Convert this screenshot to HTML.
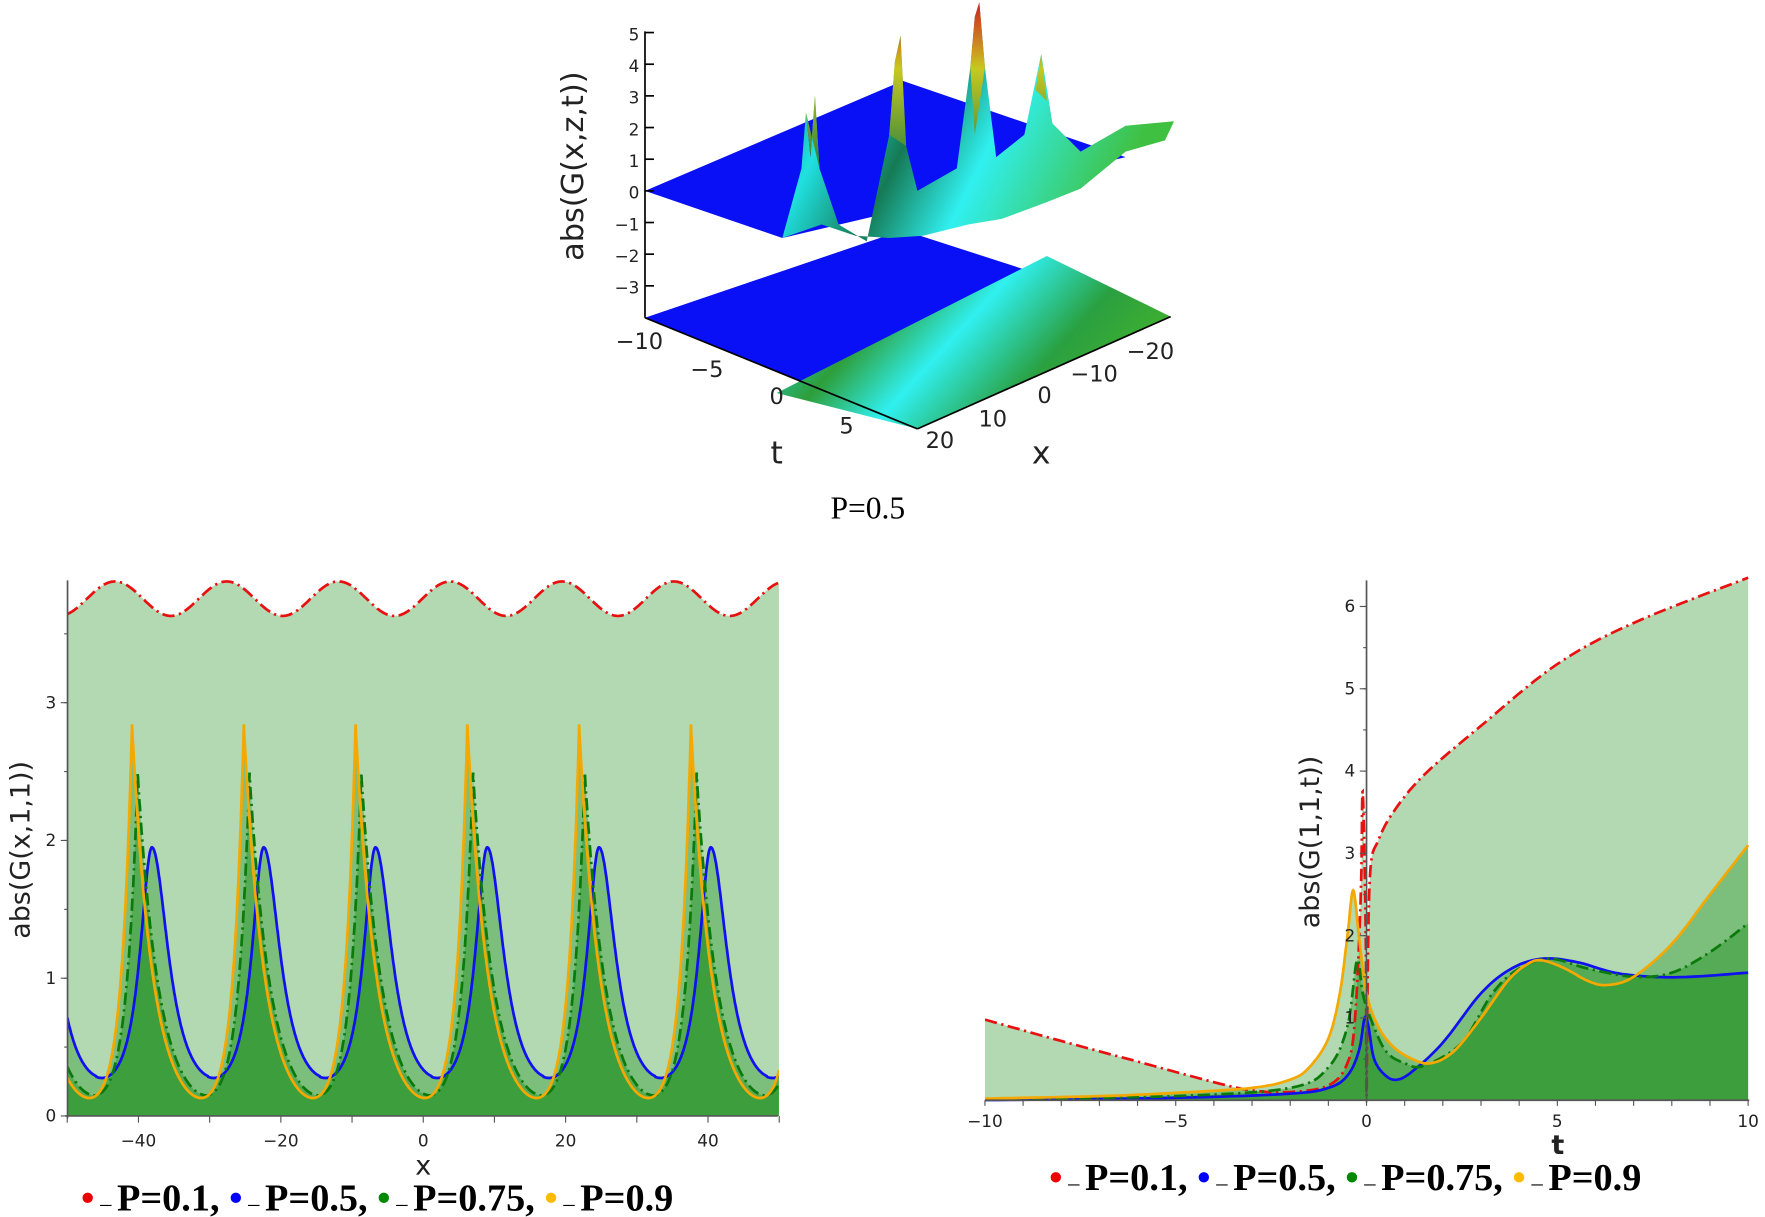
<!DOCTYPE html>
<html><head><meta charset="utf-8"><style>
html,body{margin:0;padding:0;background:#fff;}
svg{display:block;}
.tk{font-family:"DejaVu Sans","Liberation Sans",sans-serif;font-size:15px;fill:#222;}
.lg{font-family:"Liberation Serif",serif;font-weight:bold;font-size:34px;fill:#000;}
</style></head><body>
<svg id="s" width="1765" height="1217" viewBox="0 0 1568 1084" preserveAspectRatio="none" xmlns="http://www.w3.org/2000/svg">
<defs>
<linearGradient id="surf" x1="0" y1="0" x2="1" y2="0.3">
<stop offset="0" stop-color="#1a6a3a"/><stop offset="0.25" stop-color="#20e0e0"/><stop offset="0.45" stop-color="#157a55"/><stop offset="0.65" stop-color="#30f0f0"/><stop offset="1" stop-color="#40c040"/></linearGradient>
<linearGradient id="low" x1="0" y1="0" x2="1" y2="0.4">
<stop offset="0" stop-color="#0a3cff"/><stop offset="0.15" stop-color="#20d0d0"/><stop offset="0.35" stop-color="#2e9e3a"/><stop offset="0.55" stop-color="#30f0f0"/><stop offset="0.8" stop-color="#2aa040"/><stop offset="1" stop-color="#40b030"/></linearGradient>
<linearGradient id="spk" x1="0" y1="1" x2="0" y2="0"><stop offset="0" stop-color="#2a8040"/><stop offset="0.6" stop-color="#c8c820"/><stop offset="1" stop-color="#d02020"/></linearGradient>
<clipPath id="cl"><rect x="60" y="500" width="632" height="495"/></clipPath>
<clipPath id="cr"><rect x="875" y="500" width="679" height="481"/></clipPath>
</defs>
<polygon points="573,283 802,205 1040,282 815,382" fill="#0a10f5"/>
<polygon points="690,350 930,228 1040,282 815,382" fill="url(#low)"/>
<polygon points="573,170 802,72 1000,140 695,212" fill="#0a10f5"/>
<path d="M695,212 L712,150 L716,100 L720,140 L724,85 L728,150 L745,200 L770,215 L790,120 L795,55 L800,32 L805,130 L815,170 L850,150 L862,60 L866,15 L870,2 L875,60 L885,140 L910,120 L925,48 L935,110 L960,135 L1000,112 L1043,108 L1035,125 L1000,135 L960,168 L930,180 L890,195 L860,200 L820,210 L790,212 L760,210 L730,200 Z" fill="url(#surf)"/>
<path d="M716,100 L720,140 L724,85 L728,150 Z M795,55 L800,32 L805,130 L790,120 Z M862,60 L866,15 L870,2 L875,60 L866,120 Z M920,80 L925,48 L930,90 Z" fill="url(#spk)"/>
<g stroke="#000" stroke-width="1.5">
<line x1="573" y1="28" x2="573" y2="283"/>
<line x1="573" y1="283" x2="815" y2="382"/>
<line x1="815" y1="382" x2="1040" y2="282"/>
</g>
<g class="tk" style="font-size:20px" text-anchor="end" id="zt"></g>
<g class="tk" style="font-size:20px" text-anchor="middle">
<text x="568" y="311">−10</text><text x="628" y="336">−5</text><text x="690" y="360">0</text><text x="752" y="386">5</text>
<text x="835" y="399">20</text><text x="882" y="380">10</text><text x="928" y="359">0</text><text x="972" y="340">−10</text><text x="1022" y="320">−20</text>
<text x="690" y="413" style="font-size:28px">t</text><text x="925" y="413" style="font-size:28px">x</text>
</g>
<text class="tk" transform="translate(518,148) rotate(-90)" text-anchor="middle" style="font-size:27px">abs(G(x,z,t))</text>
<text x="771" y="462" text-anchor="middle" style="font-family:'Liberation Serif',serif;font-size:28px">P=0.5</text>
<g id="L" clip-path="url(#cl)"></g>
<g id="Lax"></g>
<text class="tk" transform="translate(26,757) rotate(-90)" text-anchor="middle" style="font-size:24px">abs(G(x,1,1))</text>
<text class="tk" x="376" y="1046" text-anchor="middle" style="font-size:24px">x</text>
<g id="R" clip-path="url(#cr)"></g>
<g id="Rax"></g>
<text class="tk" transform="translate(1172,750) rotate(-90)" text-anchor="middle" style="font-size:24px">abs(G(1,1,t))</text>
<text class="tk" x="1384" y="1028" text-anchor="middle" style="font-size:24px;font-weight:bold">t</text>
<text class="lg" x="72" y="1078"><tspan fill="#e00">•</tspan><tspan font-weight="normal" font-size="20"> – </tspan>P=0.1, <tspan fill="#00f">•</tspan><tspan font-weight="normal" font-size="20"> – </tspan>P=0.5, <tspan fill="#080">•</tspan><tspan font-weight="normal" font-size="20"> – </tspan>P=0.75, <tspan fill="#fb0">•</tspan><tspan font-weight="normal" font-size="20"> – </tspan>P=0.9</text>
<text class="lg" x="932" y="1060"><tspan fill="#e00">•</tspan><tspan font-weight="normal" font-size="20"> – </tspan>P=0.1, <tspan fill="#00f">•</tspan><tspan font-weight="normal" font-size="20"> – </tspan>P=0.5, <tspan fill="#080">•</tspan><tspan font-weight="normal" font-size="20"> – </tspan>P=0.75, <tspan fill="#fb0">•</tspan><tspan font-weight="normal" font-size="20"> – </tspan>P=0.9</text>
</svg>
<script>
var NS="http://www.w3.org/2000/svg";
function el(p,t,a){var e=document.createElementNS(NS,t);for(var k in a)e.setAttribute(k,a[k]);p.appendChild(e);return e;}
function tx(p,x,y,s,anc){var e=el(p,"text",{x:x,y:y,"class":"tk","text-anchor":anc||"middle"});e.textContent=s;return e;}
var zt=document.getElementById("zt"),s=document.getElementById("s");
for(var v=-3;v<=5;v++){var y=170-28.2*v;tx(zt,568,y+7,(v<0?"−":"")+Math.abs(v),"end");el(s,"line",{x1:573,y1:y,x2:581,y2:y,stroke:"#000","stroke-width":1.5});}
function pathFrom(pts){return "M"+pts.map(function(p){return p[0].toFixed(1)+","+p[1].toFixed(1)}).join(" L");}
function fillFrom(pts,y0){return pathFrom(pts)+" L"+pts[pts.length-1][0]+","+y0+" L"+pts[0][0]+","+y0+" Z";}
var cols={r:"#e81010",b:"#1010f0",g:"#0a7a0a",o:"#f5a800"};
var dash={r:"11,4,2,4",b:"",g:"11,4,2,4",o:""};
var L=document.getElementById("L");
var X=function(x){return 376+6.325*x},Y=function(v){return 994-122.7*v};
var P=15.7;
function mk(x0,mn,mx,tl,tr){
 var g=function(d){return Math.exp(-d/tr)+Math.exp(-(P-d)/tl)};
 var gmax=g(0),gmin=1e9;for(var d=0;d<=P;d+=0.01)gmin=Math.min(gmin,g(d));
 return function(x){var d=((x-x0)%P+P)%P;return mn+(mx-mn)*(g(d)-gmin)/(gmax-gmin);};
}
function mkL(x0,mn,mx,wl,wr){
 var g=function(d){var s=0;for(var k=-2;k<=2;k++){var u=d+k*P;var w=u<0?wl:wr;s+=1/(1+(u/w)*(u/w));}return s;};
 var gmax=g(0),gmin=1e9;for(var d=0;d<=P;d+=0.01)gmin=Math.min(gmin,g(d));
 return function(x){var d=((x-x0)%P+P)%P;if(d>P/2)d-=P;return mn+(mx-mn)*(g(d)-gmin)/(gmax-gmin);};
}
var fns={r:function(x){return 3.755+0.125*Math.cos(2*Math.PI*(x-3.8)/P)},
b:mkL(9.0,0.28,1.95,2.1,2.9),g:mk(7.0,0.15,2.48,1.6,3.0),o:mk(6.2,0.13,2.83,1.5,2.9)};
var LP={};
["r","b","g","o"].forEach(function(k){var a=[];for(var x=-50;x<=50.001;x+=0.05)a.push([X(x),Y(fns[k](x))]);LP[k]=a;
el(L,"path",{d:fillFrom(a,994),fill:"rgba(0,128,0,0.3)"});});
["r","b","g","o"].forEach(function(k){el(L,"path",{d:pathFrom(LP[k]),fill:"none",stroke:cols[k],"stroke-width":2.4,"stroke-dasharray":dash[k]});});
var La=document.getElementById("Lax");
el(La,"line",{x1:60,y1:517,x2:60,y2:996,stroke:"#555","stroke-width":1.5});
el(La,"line",{x1:58,y1:994,x2:691,y2:994,stroke:"#555","stroke-width":1.5});
for(var v=0;v<=3;v++){tx(La,50,Y(v)+5,""+v,"end");el(La,"line",{x1:54,y1:Y(v),x2:60,y2:Y(v),stroke:"#555"});}
for(var v=0.5;v<=3.8;v+=0.5){el(La,"line",{x1:57,y1:Y(v),x2:60,y2:Y(v),stroke:"#555"});}
for(var x=-50;x<=50;x+=10){el(La,"line",{x1:X(x),y1:994,x2:X(x),y2:1000,stroke:"#555"});}
[-40,-20,0,20,40].forEach(function(x){tx(La,X(x),1021,(x<0?"−":"")+Math.abs(x));});
var R=document.getElementById("R");
var XT=function(t){return 1214+33.9*t},YT=function(v){return 980-73.3*v};
function cat(pts){var out=[];for(var i=0;i<pts.length-1;i++){var p0=pts[Math.max(0,i-1)],p1=pts[i],p2=pts[i+1],p3=pts[Math.min(pts.length-1,i+2)];
for(var j=0;j<10;j++){var u=j/10,u2=u*u,u3=u2*u;var f=function(a,b,c,d){return 0.5*(2*b+(-a+c)*u+(2*a-5*b+4*c-d)*u2+(-a+3*b-3*c+d)*u3)};
out.push([f(p0[0],p1[0],p2[0],p3[0]),Math.max(0,f(p0[1],p1[1],p2[1],p3[1]))]);}}out.push(pts[pts.length-1]);return out;}
var D={
o:[[-10,0.02],[-7,0.05],[-5,0.09],[-3,0.15],[-2,0.25],[-1.5,0.4],[-1,0.75],[-0.7,1.3],[-0.5,2.0],[-0.35,2.55],[-0.2,2.0],[0,1.3],[0.3,0.9],[0.7,0.65],[1.2,0.5],[1.7,0.45],[2.3,0.6],[3,1.0],[3.7,1.45],[4.2,1.65],[4.6,1.7],[5.2,1.6],[5.8,1.45],[6.3,1.4],[7,1.5],[8,1.9],[9,2.5],[10,3.1]],
g:[[-10,0.01],[-5,0.05],[-2,0.15],[-1,0.4],[-0.5,0.9],[-0.25,1.7],[-0.1,1.3],[0.1,1.0],[0.5,0.6],[1,0.45],[1.5,0.42],[2.5,0.7],[3.3,1.3],[4,1.6],[4.8,1.72],[5.8,1.6],[7,1.5],[8,1.55],[9,1.8],[10,2.15]],
b:[[-10,0],[-5,0.03],[-2,0.08],[-1,0.15],[-0.5,0.3],[-0.2,0.6],[-0.05,1.0],[0.05,0.9],[0.2,0.5],[0.5,0.3],[0.8,0.25],[1.2,0.35],[2,0.7],[3,1.3],[3.8,1.6],[4.6,1.72],[5.5,1.68],[6.5,1.55],[7.5,1.5],[8.5,1.5],[10,1.55]],
r:[[-10,0.98],[-8,0.72],[-6,0.47],[-4,0.22],[-3,0.12],[-2,0.1],[-1,0.18],[-0.5,0.45],[-0.3,1.0],[-0.15,2.5],[-0.1,3.75],[-0.02,2.0],[0,0.05],[0.03,1.5],[0.1,2.8],[0.3,3.15],[0.7,3.5],[1.5,3.95],[3,4.55],[5,5.3],[7,5.8],[10,6.35]]};
var RP={};
["r","b","g","o"].forEach(function(k){var a=cat(D[k]).map(function(p){return [XT(p[0]),YT(p[1])]});RP[k]=a;el(R,"path",{d:fillFrom(a,980),fill:"rgba(0,128,0,0.3)"});});
["r","b","g","o"].forEach(function(k){el(R,"path",{d:pathFrom(RP[k]),fill:"none",stroke:cols[k],"stroke-width":2.4,"stroke-dasharray":dash[k]});});
var Ra=document.getElementById("Rax");
el(Ra,"line",{x1:1214,y1:517,x2:1214,y2:982,stroke:"#555","stroke-width":1.5});
el(Ra,"line",{x1:875,y1:980,x2:1554,y2:980,stroke:"#555","stroke-width":1.5});
for(var v=1;v<=6;v++){tx(Ra,1204,YT(v)+5,""+v,"end");el(Ra,"line",{x1:1208,y1:YT(v),x2:1214,y2:YT(v),stroke:"#555"});}
for(var v=0.5;v<=6.3;v+=0.5){el(Ra,"line",{x1:1211,y1:YT(v),x2:1214,y2:YT(v),stroke:"#555"});}
for(var t=-10;t<=10;t++){el(Ra,"line",{x1:XT(t),y1:980,x2:XT(t),y2:985,stroke:"#555"});}
[-10,-5,0,5,10].forEach(function(t){tx(Ra,XT(t),1004,(t<0?"−":"")+Math.abs(t));});
</script>
</body></html>
